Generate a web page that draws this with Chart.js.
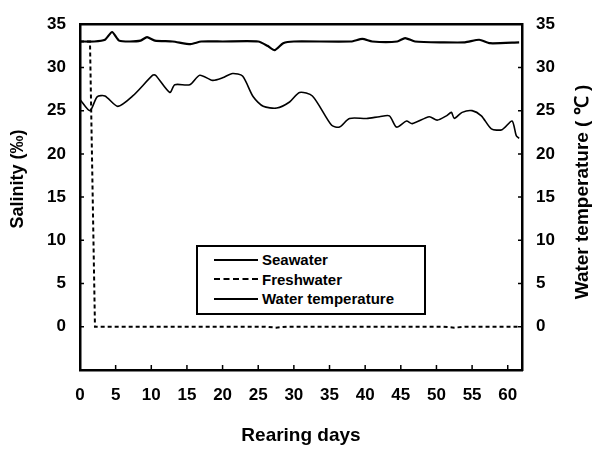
<!DOCTYPE html>
<html>
<head>
<meta charset="utf-8">
<script src="https://cdn.jsdelivr.net/npm/chart.js@4"></script>
<style>
  body { margin: 0; background: #fff; }
  #wrap { position: relative; width: 602px; height: 451px; }
  #legend {
    position: absolute; left: 196px; top: 245px; width: 226px; height: 63px;
    border: 2px solid #000; background: #fff;
    font: bold 15px "Liberation Sans", Arial, sans-serif; color: #000;
    padding-top: 3px;
  }
  #legend .row { display: flex; align-items: center; height: 19.5px; padding-left: 16px; }
  #legend .line { width: 44px; margin-right: 4px; border-top: 2px solid #000; }
  #legend .line.dash { border-top: 2px dashed #000; }
</style>
</head>
<body>
<div id="wrap">
  <canvas id="chart" width="602" height="451"></canvas>
  <div id="legend"></div>
</div>
<script>
// salinity of the seawater group (‰), [day, value]
const seawater = [
  [0, 33], [2, 33], [3.5, 33.2], [4.5, 34.1], [5.5, 33.1], [7, 33], [8.5, 33.1],
  [9.4, 33.5], [10.5, 33.1], [13, 33], [15.5, 32.7], [17, 33], [20, 33], [25, 33],
  [26.3, 32.5], [27.3, 32], [28.5, 32.8], [30, 33], [38, 33], [39.6, 33.3], [41, 33],
  [44.5, 33], [45.6, 33.4], [47, 33], [51, 32.9], [54, 32.9], [56, 33.2], [57.5, 32.8],
  [61.6, 32.9]
]
// salinity of the freshwater group (‰)
const freshwater = [
  [0, 33], [1.4, 33], [2.1, 0], [26, 0], [27.5, -0.1], [29, 0], [51, 0], [52.5, -0.1], [54, 0], [61.6, 0]
]
// water temperature (℃)
const temperature = [
  [0, 26.3], [1.4, 25.0], [2.4, 26.6], [3.5, 26.7], [5.3, 25.5], [7.4, 26.7], [10.2, 29.1],
  [10.6, 29.1], [12.6, 27.1], [13.3, 28.0], [15.4, 28.0], [16.8, 29.1], [18.6, 28.5],
  [20, 28.8], [21.4, 29.3], [22.8, 29.0], [24.3, 26.6], [25.7, 25.5], [27.6, 25.3],
  [29.4, 26.0], [30.8, 27.1], [32.6, 26.7], [35.3, 23.3], [36.4, 23.1], [37.8, 24.1],
  [40.2, 24.1], [42, 24.3], [43.4, 24.4], [44.4, 23.1], [45.8, 23.8], [46.6, 23.5],
  [49, 24.3], [50.1, 23.9], [51.4, 24.4], [52.1, 24.8], [52.5, 24.1], [53.6, 24.8],
  [55, 25.0], [56.3, 24.4], [57.7, 22.9], [59.2, 22.8], [60.6, 23.8], [61.2, 22.1], [61.6, 21.8]
]
const dayTicks = [0, 5, 10, 15, 20, 25, 30, 35, 40, 45, 50, 55, 60]
const valueTicks = [0, 5, 10, 15, 20, 25, 30, 35]
const leftTitle = 'Salinity (‰)'
const rightTitle = 'Water temperature ( ℃ )'

const toXY = arr => arr.map(([x, y]) => ({ x, y }))
const fontFamily = '"Liberation Sans", Arial, sans-serif'
const font = { family: fontFamily, weight: 'bold' }

// top border, inward tick marks and the two vertical titles (both read bottom-to-top)
const framePlugin = {
  id: 'frame',
  afterDraw(chart) {
    const { ctx, chartArea: a, scales } = chart
    ctx.save()
    ctx.strokeStyle = '#000'
    ctx.lineWidth = 2.5
    ctx.beginPath()
    ctx.moveTo(a.left, a.top)
    ctx.lineTo(a.right, a.top)
    ctx.stroke()
    ctx.lineWidth = 1.5
    ctx.beginPath()
    dayTicks.forEach(v => {
      const x = scales.x.getPixelForValue(v)
      ctx.moveTo(x, a.bottom)
      ctx.lineTo(x, a.bottom - 5)
    })
    valueTicks.forEach(v => {
      const y = scales.y.getPixelForValue(v)
      ctx.moveTo(a.left, y)
      ctx.lineTo(a.left + 4, y)
      ctx.moveTo(a.right, y)
      ctx.lineTo(a.right - 4, y)
    })
    ctx.stroke()

    ctx.fillStyle = '#000'
    ctx.textAlign = 'center'
    ctx.textBaseline = 'middle'
    ctx.font = 'bold 18px ' + fontFamily
    ctx.translate(18, 179)
    ctx.rotate(-Math.PI / 2)
    ctx.fillText(leftTitle, 0, 0)
    ctx.setTransform(1, 0, 0, 1, 0, 0)
    ctx.font = 'bold 19px ' + fontFamily
    ctx.translate(583, 192)
    ctx.rotate(-Math.PI / 2)
    ctx.fillText(rightTitle, 0, 0)
    ctx.restore()
  }
}

const chart = new Chart(document.getElementById('chart'), {
  type: 'line',
  data: {
    datasets: [
      { label: 'Seawater', data: toXY(seawater), borderColor: '#000', borderWidth: 2.2, pointRadius: 0, tension: 0.2, yAxisID: 'y' },
      { label: 'Freshwater', data: toXY(freshwater), borderColor: '#000', borderWidth: 2, borderDash: [4, 3], pointRadius: 0, tension: 0, yAxisID: 'y' },
      { label: 'Water temperature', data: toXY(temperature), borderColor: '#000', borderWidth: 1.6, pointRadius: 0, tension: 0.25, yAxisID: 'y2' }
    ]
  },
  options: {
    responsive: false,
    animation: false,
    layout: { padding: { top: 19, right: 0, left: 0, bottom: 0 } },
    plugins: { legend: { display: false }, tooltip: { enabled: false } },
    scales: {
      x: {
        type: 'linear', min: 0, max: 62,
        afterBuildTicks: s => { s.ticks = dayTicks.map(v => ({ value: v })) },
        afterFit: s => { s.height = 81 },
        grid: { display: true, drawOnChartArea: false, drawTicks: false },
        border: { display: true, color: '#000', width: 2.5 },
        ticks: { color: '#000', font: { ...font, size: 17 }, padding: 15, maxRotation: 0, autoSkip: false },
        title: { display: true, text: 'Rearing days', color: '#000', font: { ...font, size: 19 }, padding: { top: 14 } }
      },
      y: {
        position: 'left', min: -5, max: 35,
        afterBuildTicks: s => { s.ticks = valueTicks.map(v => ({ value: v })) },
        afterFit: s => { s.width = 80 },
        grid: { display: true, drawOnChartArea: false, drawTicks: false },
        border: { display: true, color: '#000', width: 2.5 },
        ticks: { color: '#000', font: { ...font, size: 17 }, padding: 14 }
      },
      y2: {
        position: 'right', min: -5, max: 35,
        afterBuildTicks: s => { s.ticks = valueTicks.map(v => ({ value: v })) },
        afterFit: s => { s.width = 80 },
        grid: { display: true, drawOnChartArea: false, drawTicks: false },
        border: { display: true, color: '#000', width: 2.5 },
        ticks: { color: '#000', font: { ...font, size: 17 }, padding: 14 }
      }
    }
  },
  plugins: [framePlugin]
})

// legend built from the datasets
const legend = document.getElementById('legend')
chart.data.datasets.forEach(ds => {
  const row = document.createElement('div')
  row.className = 'row'
  const line = document.createElement('span')
  line.className = ds.borderDash ? 'line dash' : 'line'
  const text = document.createElement('span')
  text.textContent = ds.label
  row.appendChild(line)
  row.appendChild(text)
  legend.appendChild(row)
})
</script>
</body>
</html>
